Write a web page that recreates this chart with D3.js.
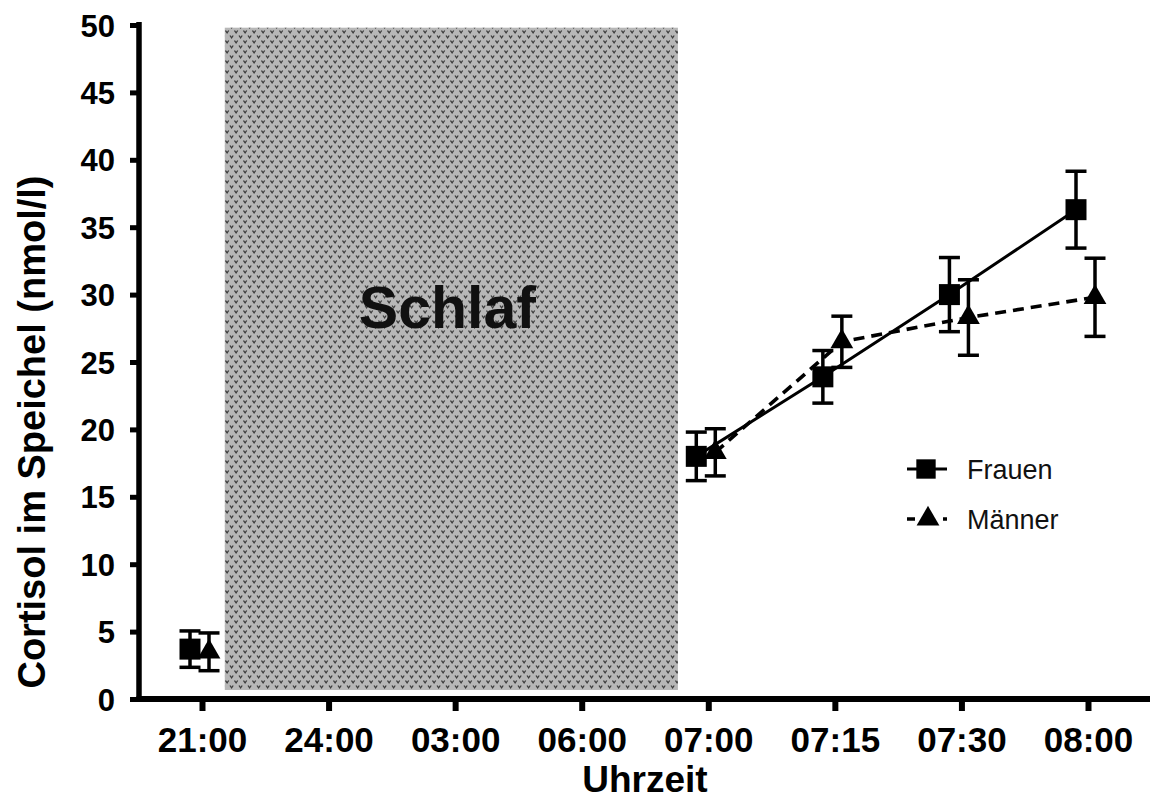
<!DOCTYPE html>
<html>
<head>
<meta charset="utf-8">
<script src="https://cdn.jsdelivr.net/npm/d3@7"></script>
<style>
  html, body { margin: 0; padding: 0; background: #fff; }
  svg { display: block; }
</style>
</head>
<body>
<script>
// ---- data ----
const categories = ["21:00", "24:00", "03:00", "06:00", "07:00", "07:15", "07:30", "08:00"];
const sampleTimes = ["21:00", "07:00", "07:15", "07:30", "08:00"];
const frauenMean = [3.7, 18.0, 23.9, 30.0, 36.3];
const frauenErr  = [1.35, 1.8, 1.95, 2.75, 2.85];
const maennerMean = [3.5, 18.3, 26.5, 28.3, 29.8];
const maennerErr  = [1.4, 1.75, 1.9, 2.8, 2.9];
const yTicks = [0, 5, 10, 15, 20, 25, 30, 35, 40, 45, 50];
const sleepStartIdx = 0.18;   // in category-index units
const sleepEndIdx = 3.76;
const sleepYRange = [0.67, 49.8];
const seriesNames = ["Frauen", "Männer"];

// ---- layout ----
const W = 1150, H = 801;
const FONT = "'Liberation Sans', Arial, Helvetica, sans-serif";
const svg = d3.select("body").append("svg").attr("width", W).attr("height", H);

const x = d3.scalePoint().domain(categories).range([202, 1088]);
const step = x.step();
const xIdx = i => x.range()[0] + i * step;
const y = d3.scaleLinear().domain([0, 50]).range([699, 25]);
const axisX = 139;

// pattern
const defs = svg.append("defs");
const pat = defs.append("pattern").attr("id", "dots").attr("patternUnits", "userSpaceOnUse")
  .attr("width", 9).attr("height", 10);
pat.append("rect").attr("width", 9).attr("height", 10).attr("fill", "#b7b7b7");
[[0.5, 0.5], [5, 5.5]].forEach(([ox, oy]) => {
  pat.append("path").attr("d", `M${ox},${oy} l1.6,2.4 l1.6,-2.4`)
    .attr("fill", "none").attr("stroke", "#3c3c3c").attr("stroke-width", 1.3);
});

// sleep rectangle
svg.append("rect")
  .attr("x", xIdx(sleepStartIdx)).attr("y", y(sleepYRange[1]))
  .attr("width", xIdx(sleepEndIdx) - xIdx(sleepStartIdx))
  .attr("height", y(sleepYRange[0]) - y(sleepYRange[1]))
  .attr("fill", "url(#dots)");
svg.append("text")
  .attr("x", (xIdx(sleepStartIdx) + xIdx(sleepEndIdx)) / 2 - 4)
  .attr("y", 328)
  .attr("text-anchor", "middle")
  .attr("font-family", FONT).attr("font-weight", "bold").attr("font-size", 59)
  .attr("fill", "#111")
  .text("Schlaf");

// axes
const yAxis = d3.axisLeft(y).tickValues(yTicks).tickSize(9).tickPadding(15).tickFormat(d3.format("d"));
const gy = svg.append("g").attr("transform", `translate(${axisX},0)`).call(yAxis);
gy.select(".domain").attr("stroke", "#000").attr("stroke-width", 5.5).attr("d", `M0,${y(50)-3}V${y(0)+3}`);
gy.selectAll(".tick line").attr("stroke", "#000").attr("stroke-width", 5);
gy.selectAll(".tick text").attr("font-family", FONT).attr("font-weight", "bold")
  .attr("font-size", 31).attr("fill", "#000").attr("dy", "0.36em");

const xAxis = d3.axisBottom(x).tickSize(12).tickPadding(16);
const gx = svg.append("g").attr("transform", `translate(0,${y(0)})`).call(xAxis);
gx.select(".domain").attr("stroke", "#000").attr("stroke-width", 6).attr("d", `M${axisX-2.5},0H${W}`);
gx.selectAll(".tick line").attr("stroke", "#000").attr("stroke-width", 6);
gx.selectAll(".tick text").attr("font-family", FONT).attr("font-weight", "bold")
  .attr("font-size", 35).attr("fill", "#000").attr("dy", "0.72em");

// axis titles
svg.append("text")
  .attr("transform", `translate(45,${(y(0)+y(50))/2 + 70}) rotate(-90)`)
  .attr("text-anchor", "middle")
  .attr("font-family", FONT).attr("font-weight", "bold").attr("font-size", 38)
  .text("Cortisol im Speichel (nmol/l)");
svg.append("text")
  .attr("x", 645).attr("y", 792)
  .attr("text-anchor", "middle")
  .attr("font-family", FONT).attr("font-weight", "bold").attr("font-size", 37)
  .text("Uhrzeit");

// series
const series = [
  { name: seriesNames[0], mean: frauenMean, err: frauenErr, dx: -12, sym: d3.symbolSquare, size: 441, dash: null },
  { name: seriesNames[1], mean: maennerMean, err: maennerErr, dx: 7, sym: d3.symbolTriangle, size: 225, dash: "11,7" }
];
const capHalf = 10.5;

series.forEach(s => {
  const pts = sampleTimes.map((t, i) => ({ t, m: s.mean[i], e: s.err[i], px: x(t) + s.dx }));
  const g = svg.append("g");
  // line (morning only, after sleep)
  const line = d3.line().x(d => d.px).y(d => y(d.m));
  g.append("path").datum(pts.slice(1))
    .attr("d", line).attr("fill", "none").attr("stroke", "#000")
    .attr("stroke-width", s.dash ? 3.6 : 3).attr("stroke-dasharray", s.dash);
  // error bars
  pts.forEach(d => {
    const eg = g.append("g").attr("stroke", "#000").attr("stroke-width", 3.5);
    eg.append("line").attr("x1", d.px).attr("x2", d.px).attr("y1", y(d.m + d.e)).attr("y2", y(d.m - d.e));
    eg.append("line").attr("x1", d.px - capHalf).attr("x2", d.px + capHalf).attr("y1", y(d.m + d.e)).attr("y2", y(d.m + d.e));
    eg.append("line").attr("x1", d.px - capHalf).attr("x2", d.px + capHalf).attr("y1", y(d.m - d.e)).attr("y2", y(d.m - d.e));
  });
  // markers
  g.selectAll("path.mk").data(pts).enter().append("path").attr("class", "mk")
    .attr("d", d3.symbol().type(s.sym).size(s.size))
    .attr("transform", d => `translate(${d.px},${y(d.m)})`)
    .attr("fill", "#000");
});

// legend
const legY = [469, 519];
series.forEach((s, i) => {
  const lg = svg.append("g").attr("transform", `translate(907,${legY[i]})`);
  lg.append("line").attr("x1", 0).attr("x2", 40).attr("y1", 0).attr("y2", 0)
    .attr("stroke", "#000").attr("stroke-width", s.dash ? 3.6 : 3)
    .attr("stroke-dasharray", s.dash ? "8,10" : null);
  lg.append("path").attr("d", d3.symbol().type(s.sym).size(s.size * (i === 0 ? 0.85 : 1.0))())
    .attr("transform", `translate(${i === 0 ? 19 : 21},0)`).attr("fill", "#000");
  lg.append("text").attr("x", 60).attr("y", 0).attr("dy", "0.36em")
    .attr("font-family", FONT).attr("font-size", 27).attr("fill", "#111")
    .text(s.name);
});
</script>
</body>
</html>
